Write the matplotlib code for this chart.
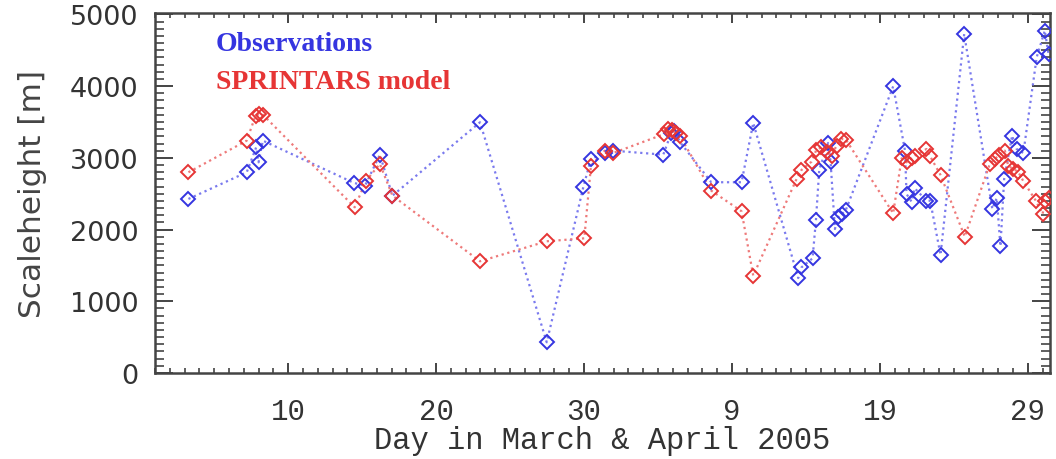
import numpy as np
import matplotlib
matplotlib.use('Agg')
import matplotlib.pyplot as plt
from matplotlib.ticker import MultipleLocator, FixedLocator

# day counted from 1 March 2005 (April 9 = day 40)
obs_day = [3.26, 7.2, 7.84, 8.0, 8.29, 14.46, 15.2, 16.2, 17.05, 22.97,
           27.48, 29.95, 30.47, 31.4, 31.98, 35.36, 35.9, 36.1, 36.5, 38.6,
           40.65, 41.44, 44.48, 44.7, 45.45, 45.68, 45.9, 46.5, 46.67, 46.96,
           47.18, 47.45, 47.7, 50.9, 51.7, 51.8, 52.14, 52.36, 53.15, 53.4,
           54.1, 55.7, 57.6, 57.9, 58.15, 58.4, 58.94, 59.24, 59.7, 60.6,
           61.15, 61.4]
obs_height = [2427, 2799, 3148, 2938, 3240, 2650, 2612, 3045, 2473, 3496,
              428, 2590, 2985, 3068, 3100, 3045, 3350, 3380, 3217, 2660,
              2660, 3487, 1324, 1473, 1599, 2138, 2831, 3208, 2938, 2008,
              2171, 2220, 2273, 3998, 3100, 2497, 2389, 2575, 2403, 2403,
              1646, 4728, 2287, 2441, 1767, 2706, 3310, 3124, 3068, 4403,
              4774, 4449]

model_day = [3.26, 7.2, 7.8, 8.05, 8.3, 14.5, 15.27, 16.2, 17.05, 22.97,
             27.48, 30.02, 30.47, 31.4, 31.98, 35.4, 35.7, 35.95, 36.2, 36.5,
             38.6, 40.65, 41.44, 44.37, 44.7, 45.38, 45.7, 46.05, 46.4, 46.74,
             47.07, 47.4, 47.7, 50.9, 51.47, 51.8, 52.14, 52.36, 53.15, 53.4,
             54.1, 55.74, 57.43, 57.77, 58.06, 58.45, 58.67, 59.0, 59.34, 59.68,
             60.54, 61.0, 61.15, 61.4]
model_height = [2799, 3240, 3590, 3610, 3600, 2311, 2682, 2915, 2473, 1558,
                1837, 1878, 2891, 3100, 3068, 3330, 3400, 3390, 3350, 3300,
                2543, 2255, 1357, 2706, 2831, 2947, 3110, 3148, 3078, 3031,
                3170, 3264, 3254, 2227, 2994, 2938, 2994, 3031, 3124, 3021,
                2761, 1901, 2915, 2985, 3040, 3100, 2891, 2845, 2808, 2682,
                2403, 2218, 2403, 2440]

tick_days = [10, 20, 30, 40, 50, 60]
tick_names = ['10', '20', '30', '9', '19', '29']

blue = '#3535e0'
red = '#e63535'
text_grey = '#333333'

fig = plt.figure(figsize=(10.56, 4.6), dpi=100)
ax = fig.add_axes([155 / 1056, 86 / 460, 895 / 1056, 360 / 460])

ax.plot(obs_day, obs_height, ':', color='#7a7aee', linewidth=1.6, zorder=2)
ax.plot(obs_day, obs_height, 'D', markersize=7, markerfacecolor='none',
        markeredgecolor=blue, markeredgewidth=1.4, zorder=3)
ax.plot(model_day, model_height, ':', color='#ee7a7a', linewidth=1.6, zorder=2)
ax.plot(model_day, model_height, 'D', markersize=7, markerfacecolor='none',
        markeredgecolor=red, markeredgewidth=1.4, zorder=3)

ax.set_xlim(1.0, 61.5)
ax.set_ylim(0, 5020)

ax.xaxis.set_major_locator(FixedLocator(tick_days))
ax.set_xticklabels(tick_names, family='Liberation Mono', fontsize=21,
                   color=text_grey)
ax.xaxis.set_minor_locator(MultipleLocator(1))
ax.yaxis.set_major_locator(MultipleLocator(1000))
ax.yaxis.set_minor_locator(MultipleLocator(100))
for lab in ax.get_yticklabels():
    lab.set_family('DejaVu Sans')
    lab.set_fontsize(19.5)
    lab.set_color(text_grey)

ax.tick_params(which='both', direction='in', top=True, right=True, color='#444444')
ax.tick_params(axis='x', which='major', length=7, width=1.4, pad=17)
ax.tick_params(axis='x', which='minor', length=3.5, width=1.2)
ax.tick_params(axis='y', which='major', length=13, width=1.4, pad=12)
ax.tick_params(axis='y', which='minor', length=6.5, width=1.2)
for sp in ax.spines.values():
    sp.set_linewidth(1.8)
    sp.set_color('#444444')

ax.set_xlabel('Day in March & April 2005', family='Liberation Mono', fontsize=22,
              labelpad=0, color=text_grey)
ax.set_ylabel('Scaleheight [m]', family='DejaVu Sans', fontsize=22.5, labelpad=16,
              color='#444444')

ax.text(0.068, 0.915, 'Observations', transform=ax.transAxes, color=blue,
        family='Liberation Serif', fontweight='bold', fontsize=20, va='center')
ax.text(0.068, 0.81, 'SPRINTARS model', transform=ax.transAxes, color=red,
        family='Liberation Serif', fontweight='bold', fontsize=20, va='center')

fig.savefig('out.png', dpi=100)
